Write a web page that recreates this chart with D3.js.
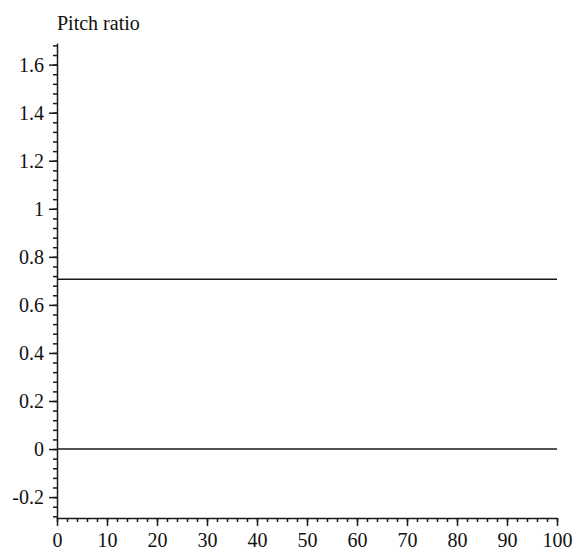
<!DOCTYPE html>
<html><head><meta charset="utf-8">
<script src="https://cdn.jsdelivr.net/npm/d3@7"></script>
<style>body{margin:0;background:#fff}svg text{font-family:"Liberation Serif","Times New Roman",serif;fill:#111}</style>
</head><body>
<svg id="c" width="574" height="551"></svg>
<script>
const title = "Pitch ratio";
const xDomain = [0, 100];
const yDomain = [-0.287, 1.69];
const xTicks = [0,10,20,30,40,50,60,70,80,90,100];
const yTicks = [-0.2,0,0.2,0.4,0.6,0.8,1,1.2,1.4,1.6];
const yTickLabels = ["-0.2","0","0.2","0.4","0.6","0.8","1","1.2","1.4","1.6"];
const xMinor = d3.range(0, 100.001, 2);
const yMinor = d3.range(-0.28, 1.69, 0.04);
const lineValues = [0.7071, 0];

const svg = d3.select("#c");
const x = d3.scaleLinear().domain(xDomain).range([57, 557]);
const y = d3.scaleLinear().domain(yDomain).range([518, 43]);
const fs = "20px";
const col = "#1a1a1a";

// horizontal lines
svg.selectAll("line.h").data(lineValues).join("line")
  .attr("x1", x(0)).attr("x2", x(100))
  .attr("y1", d => y(d)).attr("y2", d => y(d))
  .attr("stroke", col).attr("stroke-width", 1.5);

// x axis
const gx = svg.append("g").attr("transform", `translate(0,${y(yDomain[0])})`);
gx.append("g").call(d3.axisBottom(x).tickValues(xMinor).tickSize(4).tickFormat(""))
  .call(g => g.select(".domain").remove());
gx.append("g").call(d3.axisBottom(x).tickValues(xTicks).tickSize(8).tickSizeOuter(0).tickPadding(7).tickFormat(d3.format("d")));
gx.selectAll("text").style("font-size", fs).attr("font-family", null);

// y axis
const gy = svg.append("g").attr("transform", `translate(${x(0)},0)`);
gy.append("g").call(d3.axisLeft(y).tickValues(yMinor).tickSize(4).tickFormat(""))
  .call(g => g.select(".domain").remove());
gy.append("g").call(d3.axisLeft(y).tickValues(yTicks).tickSize(8).tickSizeOuter(0).tickPadding(5).tickFormat((d, i) => yTickLabels[i]));
gy.selectAll("text").style("font-size", fs).attr("font-family", null);

svg.selectAll(".domain, .tick line").attr("stroke", col).attr("stroke-width", 1.5);

svg.append("text").attr("x", 57).attr("y", 30).style("font-size", fs).text(title);
</script>
</body></html>
